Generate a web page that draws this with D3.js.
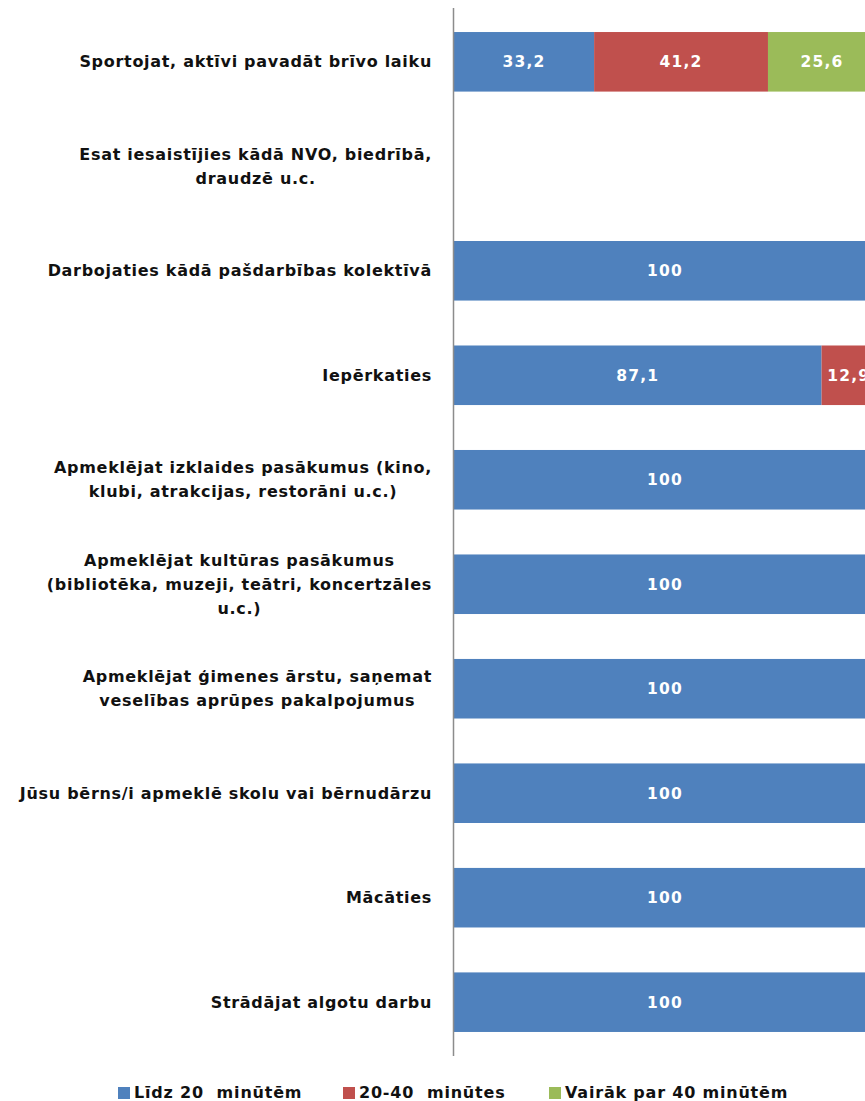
<!DOCTYPE html>
<html><head><meta charset="utf-8">
<script src="https://cdn.jsdelivr.net/npm/d3@7"></script>
<style>body{margin:0;background:#fff}svg{display:block}</style>
</head><body>
<svg id="c" width="865" height="1101"></svg>
<script>
const categories = [
  "Sportojat, aktīvi pavadāt brīvo laiku",
  "Esat iesaistījies kādā NVO, biedrībā,\ndraudzē u.c.",
  "Darbojaties kādā pašdarbības kolektīvā",
  "Iepērkaties",
  "Apmeklējat izklaides pasākumus (kino,\nklubi, atrakcijas, restorāni u.c.)",
  "Apmeklējat kultūras pasākumus\n(bibliotēka, muzeji, teātri, koncertzāles\nu.c.)",
  "Apmeklējat ģimenes ārstu, saņemat\nveselības aprūpes pakalpojumus",
  "Jūsu bērns/i apmeklē skolu vai bērnudārzu",
  "Mācāties",
  "Strādājat algotu darbu"
];
const seriesNames = ["Līdz 20  minūtēm", "20-40  minūtes", "Vairāk par 40 minūtēm"];
const lidz20 = [33.2, 0, 100, 87.1, 100, 100, 100, 100, 100, 100];
const min20_40 = [41.2, 0, 0, 12.9, 0, 0, 0, 0, 0, 0];
const vairak40 = [25.6, 0, 0, 0, 0, 0, 0, 0, 0, 0];
const colors = ["#4F81BD", "#C0504D", "#9BBB59"];

const FONT = "'DejaVu Sans', sans-serif";
const svg = d3.select("#c");

const keys = ["s0", "s1", "s2"];
const rows = categories.map((c, i) => ({cat: c, s0: lidz20[i], s1: min20_40[i], s2: vairak40[i]}));
const stack = d3.stack().keys(keys)(rows);

const y = d3.scaleBand().domain(categories).range([8, 1056]).paddingInner(0.43).paddingOuter(0.23);
const x = d3.scaleLinear().domain([0, 100]).range([454, 876]);

const g = svg.append("g");
stack.forEach((layer, li) => {
  const k = keys[li];
  const data = layer.filter(d => d.data[k] > 0);
  const lg = g.append("g");
  lg.selectAll("rect").data(data).join("rect")
    .attr("x", d => x(d[0])).attr("width", d => x(d[1]) - x(d[0]))
    .attr("y", d => y(d.data.cat)).attr("height", y.bandwidth())
    .attr("fill", colors[li]);
  lg.selectAll("text").data(data).join("text")
    .attr("x", d => (x(d[0]) + x(d[1])) / 2)
    .attr("y", d => y(d.data.cat) + y.bandwidth() / 2)
    .attr("dy", "0.35em")
    .attr("text-anchor", "middle")
    .attr("fill", "#fff").attr("font-family", FONT).attr("font-weight", "bold").attr("font-size", 15.5)
    .attr("letter-spacing", 1.2)
    .text(d => String(d.data[k]).replace(".", ","));
});

// axis line
svg.append("line").attr("x1", 453.5).attr("x2", 453.5).attr("y1", 8).attr("y2", 1056)
  .attr("stroke", "#8c8c8c").attr("stroke-width", 1.5);

// category labels
const LH = 24;
categories.forEach(c => {
  const lines = c.split("\n");
  const tg = svg.append("g");
  const texts = lines.map((l, i) => tg.append("text")
    .attr("font-family", FONT).attr("font-weight", "bold").attr("font-size", 16)
    .attr("letter-spacing", 0.7)
    .attr("fill", "#111").attr("text-anchor", "middle")
    .attr("y", y(c) + y.bandwidth() / 2 + (i - (lines.length - 1) / 2) * LH)
    .attr("dy", "0.35em").text(l));
  const maxW = d3.max(texts, t => t.node().getComputedTextLength());
  texts.forEach(t => t.attr("x", 432 - maxW / 2));
});

// legend
const legX = [118, 343, 549];
seriesNames.forEach((n, i) => {
  svg.append("rect").attr("x", legX[i]).attr("y", 1087).attr("width", 12).attr("height", 12).attr("fill", colors[i]);
  svg.append("text").attr("x", legX[i] + 16).attr("y", 1098)
    .attr("font-family", FONT).attr("font-weight", "bold").attr("font-size", 16)
    .attr("letter-spacing", 0.8)
    .attr("fill", "#111").style("white-space", "pre").text(n);
});
</script>
</body></html>
